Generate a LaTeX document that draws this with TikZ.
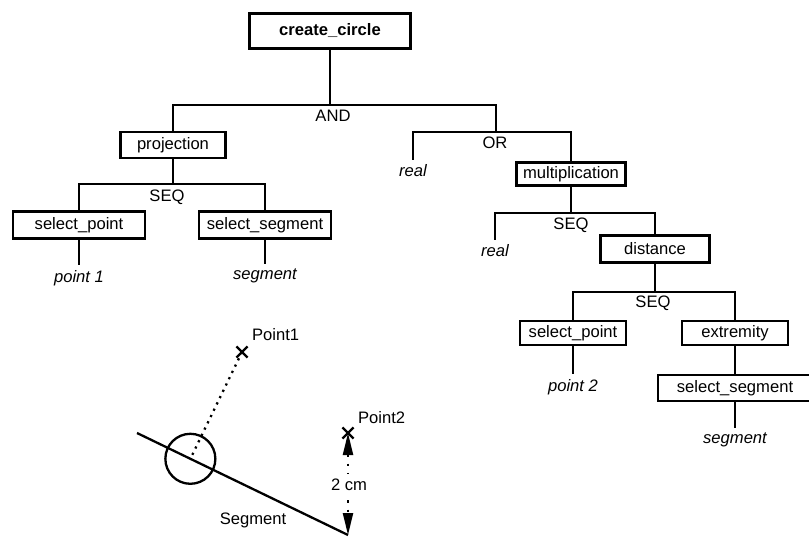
\documentclass[tikz,border=0pt]{standalone}
\usepackage{fontspec}
\setmainfont{Liberation Sans}
\usetikzlibrary{arrows.meta,calc,shapes.misc}
\newcommand{\treefont}{\fontsize{16.6}{20}\selectfont}
\tikzset{fbox/.style={rectangle, draw=black, line width=2.3pt, inner sep=0pt, minimum height=26pt, align=center},
lbl/.style={inner sep=2pt},
leaf/.style={inner sep=4pt, font=\treefont\itshape},
dots/.style={line width=2.3pt, dash pattern=on 2.2pt off 4.8pt},
crossmark/.style={cross out, draw=black, line width=2.2pt, minimum size=9pt, inner sep=0pt}}

\begin{document}
\begin{tikzpicture}[x=1pt,y=-1pt,line width=2.3pt,font=\treefont]
\useasboundingbox (0,0) rectangle (809,537);
% goal tree
\node[fbox, minimum width=161pt, minimum height=35pt, font=\treefont\bfseries] (create) at (330,31) {create\_circle};
\node[fbox, minimum width=105pt] (proj) at (173,145) {projection};
\node[fbox, minimum width=132pt, minimum height=27pt] (selpta) at (79,225) {select\_point};
\node[fbox, minimum width=132pt, minimum height=27pt] (selsega) at (265,225) {select\_segment};
\node[leaf] (pointa) at (79,278) {point 1};
\node[leaf] (sega) at (265,276) {segment};
\node[leaf] (reala) at (413,171) {real};
\node[fbox, minimum width=109pt, minimum height=23pt] (mult) at (571,174) {multiplication};
\node[leaf] (realb) at (495,251) {real};
\node[fbox, minimum width=109pt, minimum height=27pt] (dist) at (655,249) {distance};
\node[fbox, minimum width=106pt, minimum height=24pt] (selptb) at (573,333) {select\_point};
\node[fbox, minimum width=106pt, minimum height=24pt] (extr) at (735,333) {extremity};
\node[leaf] (pointb) at (573,387) {point 2};
\node[fbox, minimum width=154pt, minimum height=26pt] (selsegb) at (735,388) {select\_segment};
\node[leaf] (segb) at (735,440) {segment};
% forks
\coordinate (andfork) at (330,105);
\coordinate (orfork) at (496,132);
\coordinate (seqfa) at (173,184);
\coordinate (seqfb) at (571,213);
\coordinate (seqfc) at (655,292);
\draw (create) -- (andfork);
\draw (proj) |- (andfork) -| (orfork);
\draw (reala) |- (orfork) -| (mult);
\draw (proj) -- (seqfa);
\draw (selpta) |- (seqfa) -| (selsega);
\draw (selpta) -- (pointa);
\draw (selsega) -- (sega);
\draw (mult) -- (seqfb);
\draw (realb) |- (seqfb) -| (dist);
\draw (dist) -- (seqfc);
\draw (selptb) |- (seqfc) -| (extr);
\draw (selptb) -- (pointb);
\draw (extr) -- (selsegb);
\draw (selsegb) -- (segb);
\node[lbl] (andlbl) at (333,116) {AND};
\node[lbl] (orlbl) at (495,143) {OR};
\node[lbl] (seqla) at (167,197) {SEQ};
\node[lbl] (seqlb) at (571,225) {SEQ};
\node[lbl] (seqlc) at (653,303) {SEQ};
% sketch
\coordinate (segstart) at (137,433);
\coordinate (segend) at (348,535);
\coordinate (ptone) at (242,352);
\coordinate (pttwo) at (348,433);
\coordinate (foot) at ($(segstart)!(ptone)!(segend)$);
\draw (segstart) -- (segend);
\draw (foot) circle[radius=25];
\draw[dots] (ptone) -- (foot);
\node[crossmark] (xone) at (ptone) {};
\node[crossmark] (xtwo) at (pttwo) {};
\draw[dots, dash pattern=on 2.2pt off 7pt, {Triangle[length=22pt,width=10pt]}-{Triangle[length=22pt,width=10pt]}] (pttwo) -- (segend);
\node[lbl, fill=white, inner ysep=5pt] (dlbl) at (349,485) {2 cm};
\node[lbl, anchor=west] (ptonelbl) at (249,335) {Point1};
\node[lbl, anchor=west] (pttwolbl) at (355,418) {Point2};
\node[lbl] (seglbl) at (253,520) {Segment};
\end{tikzpicture}
\end{document}
